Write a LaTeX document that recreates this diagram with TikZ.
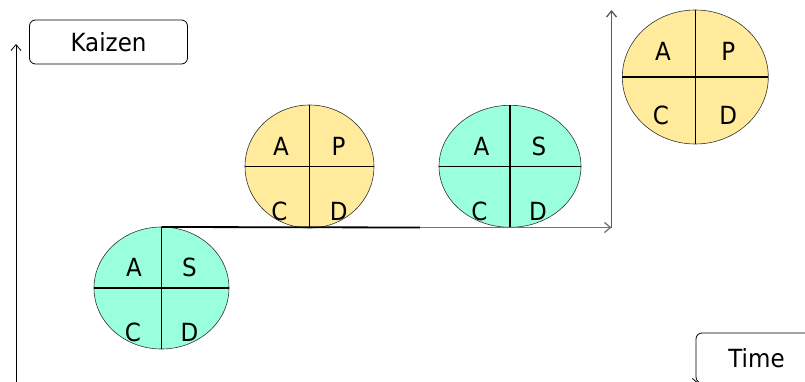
\documentclass[tikz,border=0pt]{standalone}
\usepackage{fontspec}
\setmainfont{DejaVu Sans}[FakeStretch=0.92]
\usetikzlibrary{shapes.geometric,arrows.meta}
\definecolor{tealfill}{RGB}{153,255,221}
\definecolor{yelfill}{RGB}{255,235,155}
\begin{document}
\begin{tikzpicture}[x=1pt,y=-1pt,
  pdca/.style={ellipse, draw=black!80, line width=0.6pt, inner sep=0pt, outer sep=0pt},
  lab/.style={font=\fontsize{25}{25}\selectfont, inner sep=0pt},
  div/.style={line width=1.4pt},
  barb/.style={-{Straight Barb[length=6pt,width=10pt]}},
  tag/.style={draw, rounded corners=6pt, line width=0.8pt, inner sep=0pt, font=\fontsize{25}{25}\selectfont}]
\useasboundingbox (0,0) rectangle (805,382);
% axes
\coordinate (O) at (16,383.5);
\coordinate (Ytop) at (16,44);
\coordinate (Xend) at (699,383.5);
\draw[barb, line width=0.8pt] (O) -- (Ytop);
\draw[barb, line width=0.8pt] (O) -- (Xend);
% labels
\node[tag, minimum width=158, minimum height=44] (kz) at (108.5,42) {Kaizen};
\node[tag, minimum width=121, minimum height=50] (tm) at (756.5,358) {Time};
% PDCA ellipses
\node[pdca, fill=tealfill, minimum width=135, minimum height=122] (e1) at (161.5,288) {};
\node[pdca, fill=yelfill, minimum width=129, minimum height=123] (e2) at (309.5,166.5) {};
\node[pdca, fill=tealfill, minimum width=142, minimum height=122] (e3) at (510,166.3) {};
\node[pdca, fill=yelfill, minimum width=146, minimum height=134] (e4) at (695.3,77) {};
\foreach \e in {e1,e2,e3,e4} {
  \draw[div] (\e.north) -- (\e.south);
  \draw[div] (\e.west) -- (\e.east);
}
% letters
\node[lab] (e1a) at (134,267) {A};
\node[lab] (e1s) at (189.5,267) {S};
\node[lab] (e1c) at (133,332) {C};
\node[lab] (e1d) at (189.5,332) {D};
\node[lab] (e2a) at (281,146) {A};
\node[lab] (e2p) at (338.5,146) {P};
\node[lab] (e2c) at (279.5,211) {C};
\node[lab] (e2d) at (338.7,211) {D};
\node[lab] (e3a) at (481.5,146) {A};
\node[lab] (e3s) at (539,146) {S};
\node[lab] (e3c) at (479.5,211) {C};
\node[lab] (e3d) at (538,211) {D};
\node[lab] (e4a) at (663,51.3) {A};
\node[lab] (e4p) at (728.3,51.3) {P};
\node[lab] (e4c) at (661,115.5) {C};
\node[lab] (e4d) at (728.3,115.5) {D};
% step line
\coordinate (m) at (420,227.5);
\coordinate (c) at (611.5,227.5);
\coordinate (rt) at (611.5,10);
\draw[line width=1.8pt] (e1.north) -- (m);
\draw[barb, black!65, line width=1.3pt] (c) -- (rt);
\draw[barb, black!55, line width=1.3pt] (m) -- (c);
\end{tikzpicture}
\end{document}
